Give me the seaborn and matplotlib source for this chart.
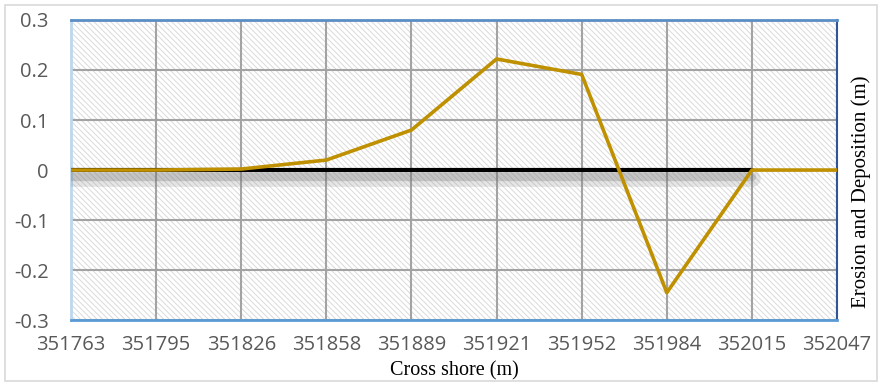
import matplotlib
matplotlib.use("Agg")
import matplotlib.pyplot as plt
import matplotlib.patheffects as pe
from matplotlib.patches import Rectangle
import seaborn as sns
import pandas as pd

# Cross-shore positions (m) and profile change (m)
cross_shore = ["351763", "351795", "351826", "351858", "351889",
               "351921", "351952", "351984", "352015", "352047"]
change = [0.0, 0.0, 0.002, 0.02, 0.08, 0.222, 0.191, -0.245, 0.0, 0.0]
baseline = [0, 0, 0, 0, 0, 0, 0, 0, 0, None]
y_ticks = [-0.3, -0.2, -0.1, 0, 0.1, 0.2, 0.3]
y_tick_labels = ["-0.3", "-0.2", "-0.1", "0", "0.1", "0.2", "0.3"]

df = pd.DataFrame({"pos": range(len(cross_shore)), "label": cross_shore,
                   "change": change, "baseline": baseline})

sns.set_style("white")
plt.rcParams["hatch.color"] = "#dadada"
plt.rcParams["hatch.linewidth"] = 0.7

fig = plt.figure(figsize=(8.82, 3.83), dpi=100)
fig.patches.append(Rectangle((0.006, 0.006), 0.988, 0.98, transform=fig.transFigure,
                             fill=False, edgecolor="#d9d9d9", linewidth=1.2))
ax = fig.add_axes([0.0805, 0.164, 0.8685, 0.784])

# hatched plot background
ax.add_patch(Rectangle((0, 0), 1, 1, transform=ax.transAxes, facecolor="white",
                       hatch="\\\\\\\\\\\\", edgecolor="#dadada", linewidth=0, zorder=0))

ax.set_xlim(0, len(cross_shore) - 1)
ax.set_ylim(-0.3, 0.3)
ax.set_xticks(range(len(cross_shore)))
ax.set_xticklabels(cross_shore)
ax.set_yticks(y_ticks)
ax.set_yticklabels(y_tick_labels)
ax.grid(True, color="#a3a3a3", linewidth=1.5, zorder=1)
ax.set_axisbelow(True)

sns.lineplot(data=df, x="pos", y="baseline", ax=ax, color="black", linewidth=3,
             zorder=3,
             path_effects=[pe.SimpleLineShadow(offset=(0, -6), shadow_color="#808080",
                                               alpha=0.2, linewidth=12),
                           pe.SimpleLineShadow(offset=(0, -5), shadow_color="#707070",
                                               alpha=0.28, linewidth=6),
                           pe.Normal()])
sns.lineplot(data=df, x="pos", y="change", ax=ax, color="#bf9000", linewidth=2.6,
             zorder=4)

for lbl in ax.get_xticklabels() + ax.get_yticklabels():
    lbl.set_fontfamily("Open Sans")
    lbl.set_fontsize(14.5)
    lbl.set_color("#595959")
ax.tick_params(axis="x", length=0, pad=11)
ax.tick_params(axis="y", length=0, pad=16)

ax.set_xlabel("Cross shore (m)", fontfamily="Liberation Serif", fontsize=14.5,
              color="black", labelpad=4)
ax.set_ylabel("")
fig.text(0.976, 0.5, "Erosion and Deposition (m)", rotation=90, ha="center",
         va="center", fontfamily="Liberation Serif", fontsize=15, color="black")

ax.spines["left"].set_color("#bdd7ee")
ax.spines["left"].set_linewidth(2)
ax.spines["top"].set_color("#5b8ec4")
ax.spines["top"].set_linewidth(2)
ax.spines["bottom"].set_color("#5b9bd5")
ax.spines["bottom"].set_linewidth(2)
ax.spines["right"].set_color("#2f5597")
ax.spines["right"].set_linewidth(1.5)

fig.savefig("out.png", dpi=100)
